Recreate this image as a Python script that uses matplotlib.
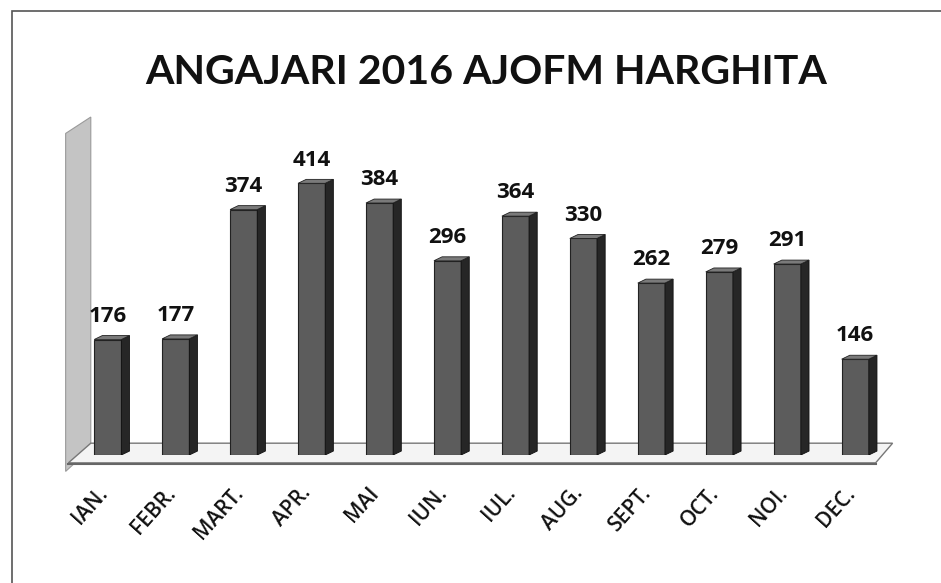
import matplotlib.pyplot as plt
from matplotlib.patches import Polygon, Rectangle

# date
luni = ['IAN.', 'FEBR.', 'MART.', 'APR.', 'MAI', 'IUN.', 'IUL.', 'AUG.',
        'SEPT.', 'OCT.', 'NOI.', 'DEC.']
angajari = [176, 177, 374, 414, 384, 296, 364, 330, 262, 279, 291, 146]

titlu = 'ANGAJARI 2016 AJOFM HARGHITA'

fig = plt.figure(figsize=(9.41, 5.83), dpi=100)

# chenarul exterior
fig.patches.append(Rectangle((12 / 941, -0.05), 1.2, (583 - 11) / 583 + 0.05,
                             transform=fig.transFigure, fill=False,
                             edgecolor='#555555', linewidth=1.2))

fig.text(0.517, 0.876, titlu, ha='center', va='center', fontsize=29.5,
         fontweight='bold', family='Lato', color='#111111')

ax = fig.add_axes([67 / 941, 128 / 583, 829 / 941, 315 / 583])
ax.set_xlim(-0.6, 11.6)
ax.set_ylim(0, 480)
ax.axis('off')

w = 0.40      # latimea fetei din fata
dx = 0.12     # adancimea (spre dreapta)
dy = 6        # adancimea (in sus, unitati)

# peretele din spate (stanga)
ax.add_patch(Polygon([(-0.62, -25), (-0.62, 490), (-0.25, 515), (-0.25, 10)],
                     closed=True, facecolor='#c4c4c4', edgecolor='#9a9a9a',
                     linewidth=0.8, clip_on=False, zorder=1))

# podeaua
ax.add_patch(Polygon([(-0.58, -12), (-0.25, 18), (11.55, 18), (11.3, -12)],
                     closed=True, facecolor='#f4f4f4', edgecolor='#777777',
                     linewidth=1.0, clip_on=False, zorder=1))
ax.plot([-0.58, 11.3], [-14, -14], color='#666666', lw=1.5, clip_on=False,
        zorder=1)

for i, v in enumerate(angajari):
    x0 = i - w / 2
    x1 = i + w / 2
    # fata
    ax.bar(i, v, width=w, bottom=0, color='#5c5c5c', edgecolor='#222222',
           linewidth=0.8, zorder=3)
    # lateral
    ax.add_patch(Polygon([(x1, 0), (x1 + dx, dy), (x1 + dx, v + dy), (x1, v)],
                         closed=True, facecolor='#262626', edgecolor='#111111',
                         linewidth=0.6, zorder=3))
    # sus
    ax.add_patch(Polygon([(x0, v), (x0 + dx, v + dy), (x1 + dx, v + dy), (x1, v)],
                         closed=True, facecolor='#7a7a7a', edgecolor='#222222',
                         linewidth=0.6, zorder=3))
    ax.text(i + 0.0, v + 27, str(v), ha='center', va='baseline', fontsize=16,
            fontweight='bold', family='Open Sans', color='#111111', zorder=4)
    ax.text(i - 0.17, -42, luni[i], ha='right', va='top', rotation=48,
            rotation_mode='anchor', fontsize=15, family='Open Sans',
            fontweight='semibold', color='#111111', clip_on=False)

fig.savefig('out.png', dpi=100)
